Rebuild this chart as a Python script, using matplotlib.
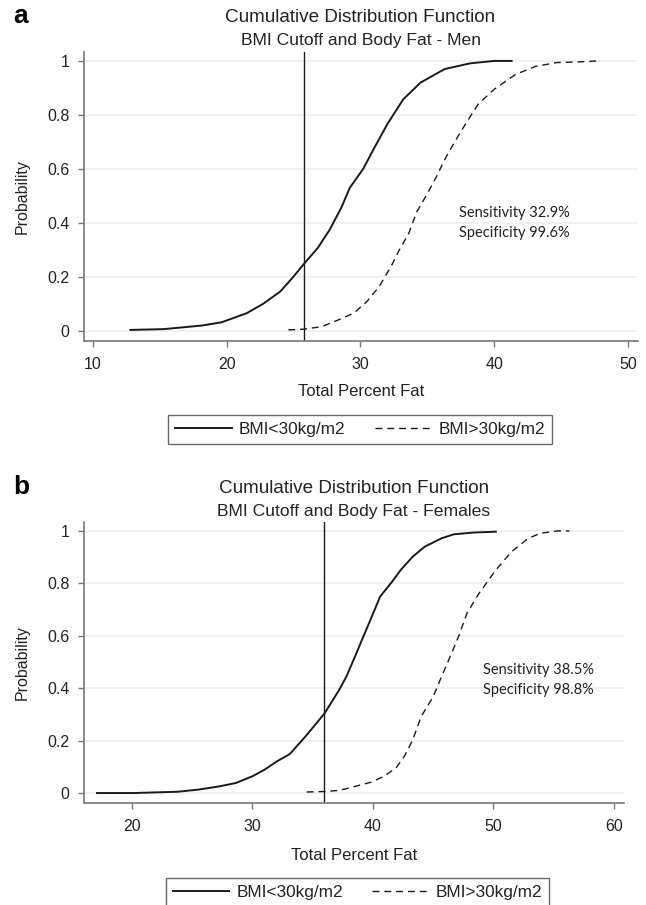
import numpy as np
import matplotlib
matplotlib.use("Agg")
import matplotlib.pyplot as plt
from matplotlib.lines import Line2D

plt.rcParams["font.family"] = ["Liberation Sans", "DejaVu Sans"]

# panel a - men
men_low_x = [12.8, 15.3, 18.1, 19.6, 21.5, 22.7, 24.0, 24.9, 25.8, 26.8, 27.7, 28.6, 29.2,
             30.2, 31.1, 32.0, 33.2, 34.5, 36.3, 38.2, 40.0, 41.3]
men_low_y = [0.004, 0.007, 0.02, 0.032, 0.066, 0.10, 0.146, 0.196, 0.25, 0.307, 0.375, 0.46, 0.53,
             0.60, 0.684, 0.765, 0.858, 0.92, 0.97, 0.991, 1.0, 1.0]
men_high_x = [24.6, 25.8, 27.1, 28.3, 29.5, 30.5, 31.4, 32.3, 32.9, 33.6, 34.2, 34.9, 35.7,
              36.3, 37.0, 37.9, 38.8, 40.0, 41.6, 43.1, 44.7, 46.2, 47.8]
men_high_y = [0.004, 0.007, 0.016, 0.04, 0.066, 0.11, 0.165, 0.24, 0.30, 0.36, 0.44, 0.50, 0.573,
              0.635, 0.697, 0.77, 0.84, 0.895, 0.95, 0.98, 0.994, 0.996, 1.0]
men_cutoff = 25.8

# panel b - females
fem_low_x = [17.1, 20.1, 23.8, 25.5, 27.2, 28.6, 30.0, 31.0, 32.0, 33.1, 34.4, 36.0, 37.2,
             37.8, 38.5, 39.2, 39.9, 40.6, 41.6, 42.3, 43.3, 44.3, 45.7, 46.7, 48.4, 50.2]
fem_low_y = [0.0, 0.0, 0.005, 0.013, 0.025, 0.038, 0.064, 0.089, 0.12, 0.149, 0.216, 0.305, 0.394,
             0.445, 0.52, 0.597, 0.673, 0.75, 0.807, 0.851, 0.902, 0.94, 0.972, 0.987, 0.994, 0.997]
fem_high_x = [34.5, 36.0, 37.2, 38.5, 39.9, 40.9, 41.9, 42.6, 43.3, 44.0, 45.0, 45.7, 46.4,
              47.1, 47.8, 48.8, 50.2, 51.5, 52.9, 53.9, 55.3, 56.3]
fem_high_y = [0.004, 0.006, 0.01, 0.025, 0.042, 0.064, 0.095, 0.14, 0.203, 0.292, 0.368, 0.445, 0.52,
              0.597, 0.686, 0.762, 0.851, 0.921, 0.972, 0.991, 1.0, 1.0]
fem_cutoff = 35.9

labels = ["BMI<30kg/m2", "BMI>30kg/m2"]
y_ticks = [0, 0.2, 0.4, 0.6, 0.8, 1]
y_tick_labels = ["0", "0.2", "0.4", "0.6", "0.8", "1"]

W, H = 646, 905
fig = plt.figure(figsize=(W / 100, H / 100), dpi=100)
dash = (0, (5, 3.5))


def px(x0, y0, x1, y1):
    return [x0 / W, 1 - y1 / H, (x1 - x0) / W, (y1 - y0) / H]


def panel(box, low_x, low_y, high_x, high_y, cutoff, xlim, ylim, xticks, sens, spec, txt_xy, xlab_y):
    ax = fig.add_axes(px(*box))
    ax.plot(low_x, low_y, color="#1a1a1a", lw=1.4)
    ax.plot(high_x, high_y, color="#1a1a1a", lw=1.0, ls=dash)
    ax.axvline(cutoff, color="#1a1a1a", lw=1.0)
    ax.set_xlim(*xlim)
    ax.set_ylim(*ylim)
    ax.set_xticks(xticks)
    ax.set_yticks(y_ticks)
    ax.set_yticklabels(y_tick_labels)
    ax.grid(axis="y", color="#eeeeee", lw=1.2)
    ax.set_axisbelow(True)
    for s in ["top", "right"]:
        ax.spines[s].set_visible(False)
    for s in ["left", "bottom"]:
        ax.spines[s].set_color("#777777")
        ax.spines[s].set_linewidth(1.2)
    ax.tick_params(colors="#777777", labelcolor="#222222", labelsize=11.5, length=4.3, width=1)
    ax.tick_params(axis="y", pad=6)
    ax.tick_params(axis="x", pad=7)
    bw = box[2] - box[0]
    bh = box[3] - box[1]
    ax.set_ylabel("Probability", fontsize=11.5, color="#222222")
    ax.yaxis.set_label_coords((22 - box[0]) / bw, 0.5)
    ax.yaxis.label.set_va("center")
    ax.set_xlabel("Total Percent Fat", fontsize=12, color="#222222")
    ax.xaxis.set_label_coords(0.5, (box[3] - xlab_y) / bh)
    ax.xaxis.label.set_va("center")
    ax.text(txt_xy[0], txt_xy[1], "Sensitivity " + sens + "\nSpecificity " + spec,
            fontsize=10.5, family=["Lato", "DejaVu Sans"], color="#222222",
            linespacing=1.55, va="center", ha="left")
    return ax


ax1 = panel((84, 52, 638, 341), men_low_x, men_low_y, men_high_x, men_high_y, men_cutoff,
            (9.33, 50.75), (-0.037, 1.033), [10, 20, 30, 40, 50], "32.9%", "99.6%", (37.4, 0.40), 392)
ax2 = panel((84, 522, 624, 803), fem_low_x, fem_low_y, fem_high_x, fem_high_y, fem_cutoff,
            (16.02, 60.83), (-0.038, 1.034), [20, 30, 40, 50, 60], "38.5%", "98.8%", (49.1, 0.433), 855)

# titles
fig.text(360 / W, 1 - 17 / H, "Cumulative Distribution Function", ha="center", va="center",
         fontsize=13.6, color="#222222")
fig.text(361 / W, 1 - 40 / H, "BMI Cutoff and Body Fat - Men", ha="center", va="center",
         fontsize=12.6, color="#222222")
fig.text(354 / W, 1 - 488 / H, "Cumulative Distribution Function", ha="center", va="center",
         fontsize=13.6, color="#222222")
fig.text(354 / W, 1 - 511 / H, "BMI Cutoff and Body Fat - Females", ha="center", va="center",
         fontsize=12.6, color="#222222")
fig.text(13 / W, 1 - 16 / H, "a", fontsize=19, fontweight="bold", va="center")
fig.text(13 / W, 1 - 487 / H, "b", fontsize=19, fontweight="bold", va="center")

handles = [Line2D([], [], color="#1a1a1a", lw=1.4),
           Line2D([], [], color="#1a1a1a", lw=1.0, ls=dash)]
for cx, cy in [(360, 429.5), (357.5, 892.5)]:
    leg = fig.legend(handles, labels, loc="center", bbox_to_anchor=(cx / W, 1 - cy / H),
                     ncol=2, frameon=True, fancybox=False, fontsize=12.4, handlelength=3.3,
                     handletextpad=0.4, columnspacing=1.7, borderpad=0.4, edgecolor="#444444")
    leg.get_frame().set_linewidth(1.0)
    for t in leg.get_texts():
        t.set_color("#222222")

fig.savefig("out.png", dpi=100)
